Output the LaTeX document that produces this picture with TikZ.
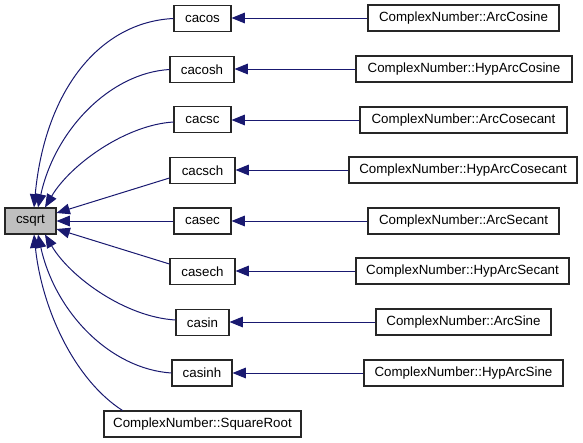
\documentclass[tikz,border=0pt]{standalone}
\usepackage{fontspec}
\setmainfont{Liberation Sans}
\usetikzlibrary{arrows.meta,calc}
\definecolor{edgeblue}{RGB}{25,25,112}
\definecolor{boxgray}{RGB}{191,191,191}
\begin{document}
\begin{tikzpicture}[x=0.75pt,y=-0.75pt,
  box/.style={draw=black!85,line width=0.8pt,minimum height=19.5pt,inner sep=0pt,font=\fontsize{10}{12}\selectfont,fill=white},
  edge/.style={draw=edgeblue,line width=0.75pt,-{Triangle[length=10pt,width=8pt]}}]
\useasboundingbox (0,0) rectangle (583,443);
% left
\node[box,fill=boxgray,minimum width=38.25pt] (csqrt) at (30.5,221) {csqrt};
% middle
\node[box,minimum width=42.75pt] (cacos) at (202.5,18.5) {cacos};
\node[box,minimum width=48pt] (cacosh) at (202,69.5) {cacosh};
\node[box,minimum width=42.75pt] (cacsc) at (202.5,119.5) {cacsc};
\node[box,minimum width=48.75pt] (cacsch) at (202.5,170.5) {cacsch};
\node[box,minimum width=42.75pt] (casec) at (202.5,221) {casec};
\node[box,minimum width=48.75pt] (casech) at (202.5,271.5) {casech};
\node[box,minimum width=39.75pt] (casin) at (202.5,322.5) {casin};
\node[box,minimum width=45pt] (casinh) at (202,373) {casinh};
\node[box,minimum width=147.75pt] (sqroot) at (202.5,424) {ComplexNumber::SquareRoot};
% right
\node[box,minimum width=143.25pt] (arccos) at (463.5,18) {ComplexNumber::ArcCosine};
\node[box,minimum width=162pt] (hyparccos) at (464,69) {ComplexNumber::HypArcCosine};
\node[box,minimum width=155.25pt] (arccsc) at (463.5,120) {ComplexNumber::ArcCosecant};
\node[box,minimum width=171pt] (hyparccsc) at (463,170) {ComplexNumber::HypArcCosecant};
\node[box,minimum width=143.25pt] (arcsec) at (463.5,221) {ComplexNumber::ArcSecant};
\node[box,minimum width=159.75pt] (hyparcsec) at (462.5,271) {ComplexNumber::HypArcSecant};
\node[box,minimum width=131.25pt] (arcsin) at (463.5,322) {ComplexNumber::ArcSine};
\node[box,minimum width=149.25pt] (hyparcsin) at (463.5,373) {ComplexNumber::HypArcSine};
% right -> middle
\draw[edge] (arccos.west) -- (cacos.east |- arccos.west);
\draw[edge] (hyparccos.west) -- (cacosh.east |- hyparccos.west);
\draw[edge] (arccsc.west) -- (cacsc.east |- arccsc.west);
\draw[edge] (hyparccsc.west) -- (cacsch.east |- hyparccsc.west);
\draw[edge] (arcsec.west) -- (casec.east |- arcsec.west);
\draw[edge] (hyparcsec.west) -- (casech.east |- hyparcsec.west);
\draw[edge] (arcsin.west) -- (casin.east |- arcsin.west);
\draw[edge] (hyparcsin.west) -- (casinh.east |- hyparcsin.west);
% middle -> csqrt
\draw[edge] (cacos.west) .. controls (100,22) and (45,90) .. ($(csqrt.north)+(3.5,0)$);
\draw[edge] (cacosh.west) .. controls (110,73) and (55,130) .. ($(csqrt.north)+(7.5,0)$);
\draw[edge] ($(cacsc.west)+(0,2.5)$) .. controls (125,125) and (70,165) .. ($(csqrt.north)+(14.5,0)$);
\draw[edge] ($(cacsch.west)+(0,7.5)$) -- ($(csqrt.east)+(0,-8)$);
\draw[edge] (casec.west) -- (csqrt.east);
\draw[edge] ($(casech.west)+(0,-7.5)$) -- ($(csqrt.east)+(0,8)$);
\draw[edge] ($(casin.west)+(0,-2.5)$) .. controls (125,317) and (70,277) .. ($(csqrt.south)+(14.5,0)$);
\draw[edge] (casinh.west) .. controls (110,369) and (55,312) .. ($(csqrt.south)+(7.5,0)$);
\draw[edge] ($(sqroot.north west)+(19,0)$) .. controls (75,380) and (42,310) .. ($(csqrt.south)+(3.5,0)$);
\end{tikzpicture}
\end{document}
